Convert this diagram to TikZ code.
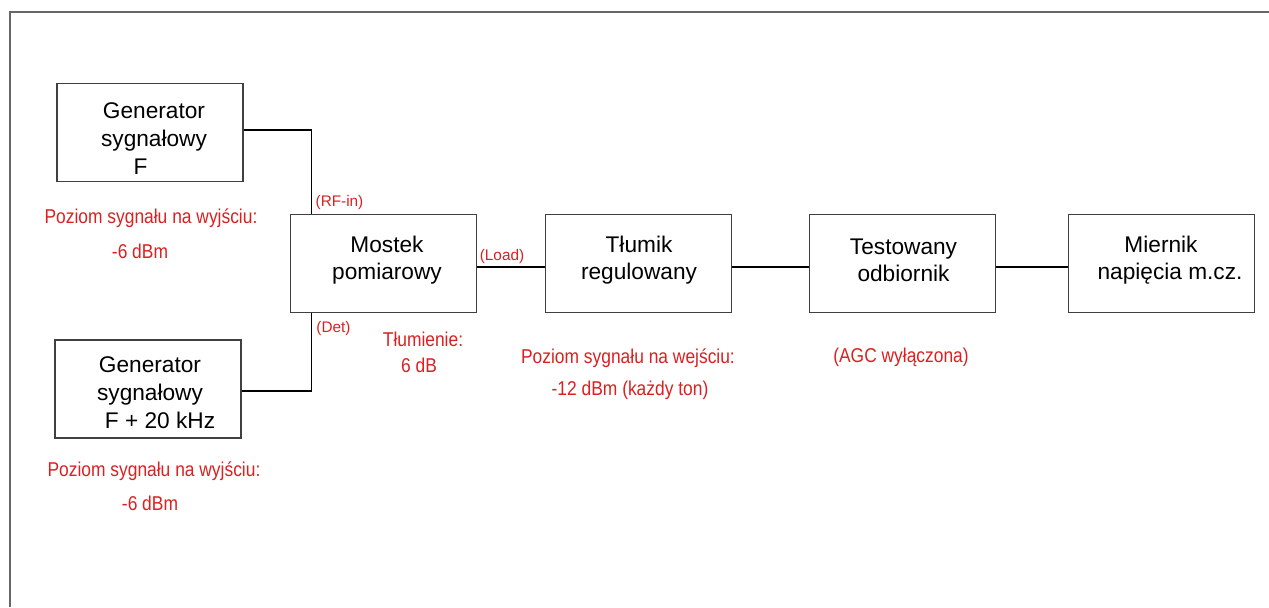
\documentclass[tikz,border=0pt]{standalone}
\usepackage{fontspec}
\setmainfont{Liberation Sans}
\newfontfamily\redf[FakeStretch=0.87]{Liberation Sans}
\definecolor{lbl}{RGB}{218,32,32}
\begin{document}
\begin{tikzpicture}[x=0.75pt,y=-0.75pt,
 blk/.style={draw=black!75,line width=1.1pt,minimum width=139.5pt,minimum height=73.5pt,inner sep=0pt},
 btxt/.style={align=center,font=\fontsize{17}{20}\selectfont,inner sep=0pt},
 gtxt/.style={align=center,font=\fontsize{17}{21}\selectfont,inner sep=0pt},
 note/.style={text=lbl,font=\redf\fontsize{15}{18}\selectfont,inner sep=0pt},
 port/.style={text=lbl,font=\fontsize{11.5}{14}\selectfont,inner sep=0pt},
 wire/.style={line width=0.8pt}]
\useasboundingbox (0,0) rectangle (1269,607);
\draw[black!60,line width=1.5pt] (10,607) -- (10,12) -- (1269,12);

% boxes
\node[blk] (genF) at (150,132.5) {};
\node[blk] (gen2) at (148,389) {};
\node[blk] (most) at (383.5,263.5) {};
\node[blk] (tlum) at (638.5,263.5) {};
\node[blk] (test) at (902.5,263.5) {};
\node[blk] (mier) at (1161.5,263.5) {};

% box texts
\node[gtxt] (genFt) at (154,139) {Generator\\sygnałowy\\F\hspace*{20pt}};
\node[gtxt] (gen2t) at (150,393) {Generator\\sygnałowy\\\hspace*{15pt}F + 20 kHz};
\node[btxt] (mostt) at (387,260) {Mostek\\pomiarowy};
\node[btxt] (tlumt) at (639,260) {Tłumik\\regulowany};
\node[btxt] (testt) at (903.5,260) {Testowany\\odbiornik};
\node[btxt] (miert) at (1161,260) {Miernik\\\hspace*{13.5pt}napięcia m.cz.};

% connectors
\draw[wire] ([yshift=1.9pt]genF.east) -| ([xshift=16.5pt]most.north west);
\draw[wire] ([yshift=-1.5pt]gen2.east) -| ([xshift=16.5pt]most.south west);
\draw[wire] ([yshift=-2.6pt]most.east) -- ([yshift=-2.6pt]tlum.west);
\draw[wire] ([yshift=-2.6pt]tlum.east) -- ([yshift=-2.6pt]test.west);
\draw[wire] ([yshift=-2.6pt]test.east) -- ([yshift=-2.6pt]mier.west);

% port labels
\node[port] (rfin) at (339.5,203) {(RF-in)};
\node[port] (det) at (333.5,329) {(Det)};
\node[port] (load) at (502,257) {(Load)};

% notes
\node[note] (n1a) at (151,218) {Poziom sygnału na wyjściu:};
\node[note] (n1b) at (140,251) {-6 dBm};
\node[note] (n2a) at (154,471) {Poziom sygnału na wyjściu:};
\node[note] (n2b) at (150,503) {-6 dBm};
\node[note] (n3a) at (423,339) {Tłumienie:};
\node[note] (n3b) at (419,365) {6 dB};
\node[note] (n4a) at (628,358) {Poziom sygnału na wejściu:};
\node[note] (n4b) at (630,390) {-12 dBm (każdy ton)};
\node[note] (n5) at (901,357) {(AGC wyłączona)};
\end{tikzpicture}
\end{document}
